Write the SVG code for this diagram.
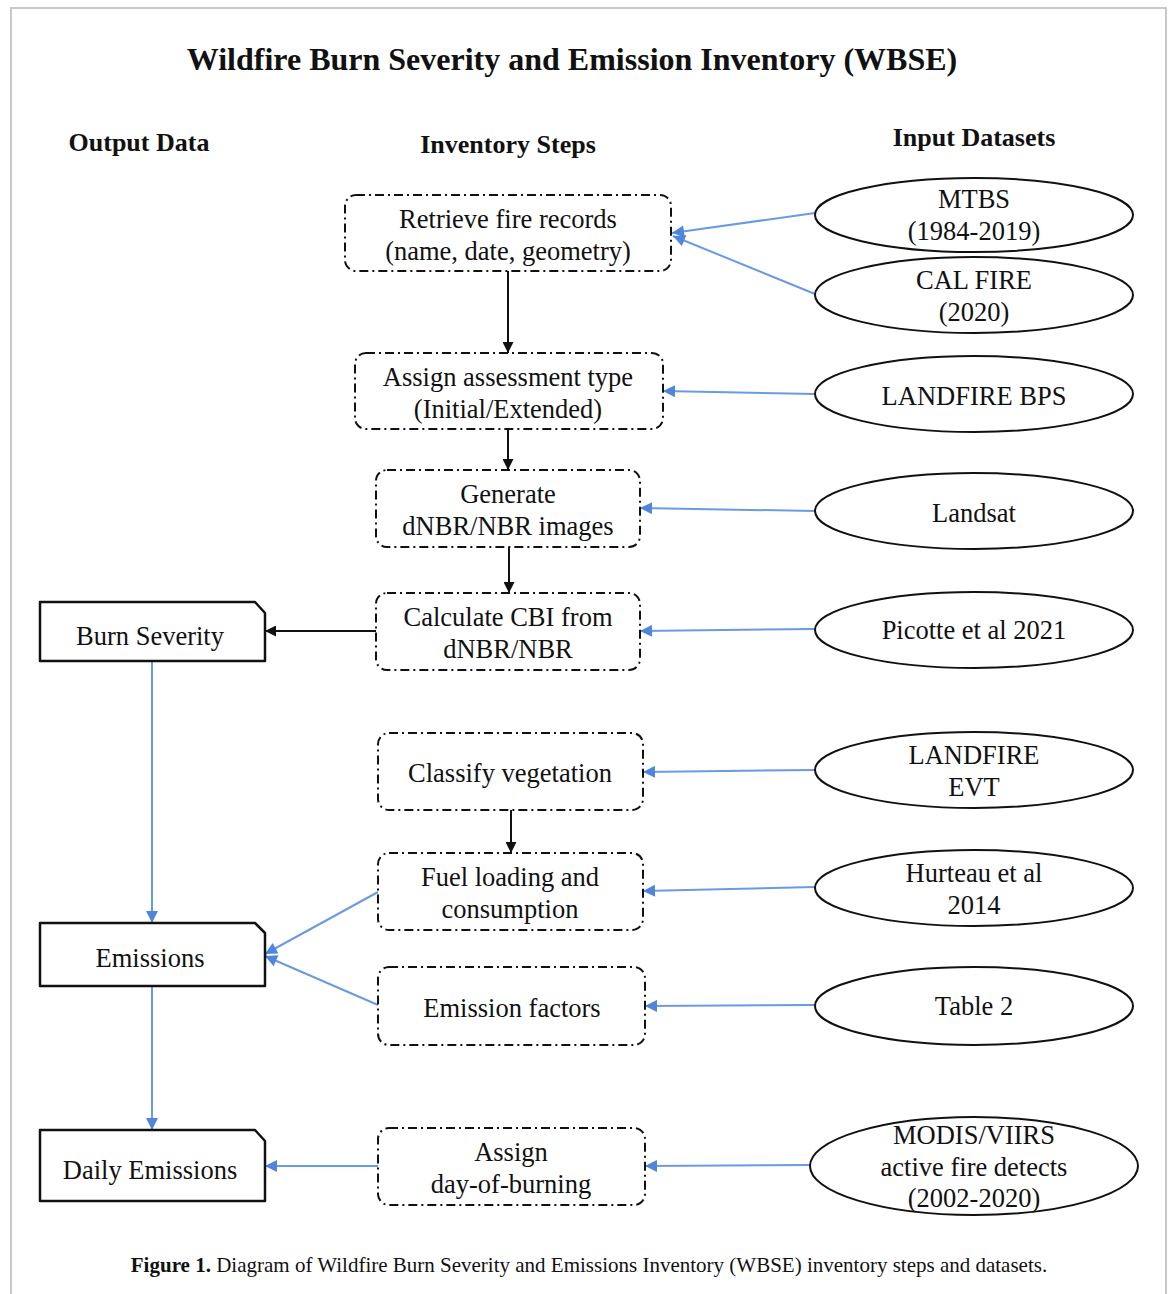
<svg xmlns="http://www.w3.org/2000/svg" width="1171" height="1294" viewBox="0 0 1171 1294">
<defs>
<style>
text{font-family:"Liberation Serif","Times New Roman",serif;fill:#111;text-anchor:middle}
.title{font-size:32px;font-weight:bold}
.head{font-size:26px;font-weight:bold}
.t{font-size:26.5px}
.cap{font-size:21px;text-anchor:middle}
.step{fill:#fff;stroke:#111;stroke-width:2;stroke-dasharray:9 4 2 4}
.out{fill:#fff;stroke:#111;stroke-width:2.5;stroke-linejoin:round}
.in{fill:#fff;stroke:#111;stroke-width:2}
.bl{stroke:#111;stroke-width:2;fill:none}
.bu{stroke:#6a9be0;stroke-width:2;fill:none}
</style>
<marker id="ab" viewBox="0 0 10 10" refX="10" refY="5" markerWidth="12" markerHeight="11" markerUnits="userSpaceOnUse" orient="auto"><path d="M0,0 L10,5 L0,10 Z" fill="#111"/></marker>
<marker id="au" viewBox="0 0 10 10" refX="10" refY="5" markerWidth="14" markerHeight="12" markerUnits="userSpaceOnUse" orient="auto"><path d="M0,0 L10,5 L0,10 Z" fill="#4f86dc"/></marker>
</defs>
<rect x="0" y="0" width="1171" height="1294" fill="#fff"/>
<rect x="11" y="8" width="1155" height="1300" fill="none" stroke="#c8c8c8" stroke-width="2"/>
<text class="title" x="572" y="70">Wildfire Burn Severity and Emission Inventory (WBSE)</text>
<text class="head" x="139" y="151">Output Data</text>
<text class="head" x="508" y="153">Inventory Steps</text>
<text class="head" x="974" y="146">Input Datasets</text>

<g id="connectors">
<line class="bl" x1="508" y1="271" x2="508" y2="353" marker-end="url(#ab)"/>
<line class="bl" x1="508" y1="429" x2="508" y2="470" marker-end="url(#ab)"/>
<line class="bl" x1="509" y1="547" x2="509" y2="593" marker-end="url(#ab)"/>
<line class="bl" x1="511" y1="810" x2="511" y2="853" marker-end="url(#ab)"/>
<line class="bl" x1="376" y1="631" x2="265" y2="631" marker-end="url(#ab)"/>
<line class="bu" x1="815" y1="213" x2="672" y2="233" marker-end="url(#au)"/>
<line class="bu" x1="815" y1="294" x2="673" y2="236" marker-end="url(#au)"/>
<line class="bu" x1="815" y1="394" x2="663" y2="391" marker-end="url(#au)"/>
<line class="bu" x1="815" y1="511" x2="640" y2="508" marker-end="url(#au)"/>
<line class="bu" x1="815" y1="629" x2="640" y2="631" marker-end="url(#au)"/>
<line class="bu" x1="815" y1="770" x2="643" y2="772" marker-end="url(#au)"/>
<line class="bu" x1="815" y1="887" x2="643" y2="891" marker-end="url(#au)"/>
<line class="bu" x1="815" y1="1005" x2="645" y2="1006" marker-end="url(#au)"/>
<line class="bu" x1="810" y1="1165" x2="645" y2="1166" marker-end="url(#au)"/>
<line class="bu" x1="378" y1="1166" x2="265" y2="1166" marker-end="url(#au)"/>
<line class="bu" x1="378" y1="892" x2="265" y2="954" marker-end="url(#au)"/>
<line class="bu" x1="378" y1="1005" x2="265" y2="956" marker-end="url(#au)"/>
<line class="bu" x1="152" y1="661" x2="152" y2="923" marker-end="url(#au)"/>
<line class="bu" x1="152" y1="986" x2="152" y2="1130" marker-end="url(#au)"/>
</g>

<g id="step-retrieve"><rect class="step" x="345" y="195" width="326" height="76" rx="11"/><text class="t" x="508" y="228">Retrieve fire records</text><text class="t" x="508" y="260">(name, date, geometry)</text></g>
<g id="step-assess"><rect class="step" x="355" y="353" width="308" height="76" rx="11"/><text class="t" x="508" y="386">Assign assessment type</text><text class="t" x="508" y="418">(Initial/Extended)</text></g>
<g id="step-generate"><rect class="step" x="376" y="470" width="264" height="77" rx="11"/><text class="t" x="508" y="503">Generate</text><text class="t" x="508" y="535">dNBR/NBR images</text></g>
<g id="step-cbi"><rect class="step" x="376" y="593" width="264" height="77" rx="11"/><text class="t" x="508" y="626">Calculate CBI from</text><text class="t" x="508" y="658">dNBR/NBR</text></g>
<g id="step-classify"><rect class="step" x="378" y="733" width="265" height="77" rx="11"/><text class="t" x="510" y="782">Classify vegetation</text></g>
<g id="step-fuel"><rect class="step" x="378" y="853" width="265" height="77" rx="11"/><text class="t" x="510" y="886">Fuel loading and</text><text class="t" x="510" y="918">consumption</text></g>
<g id="step-ef"><rect class="step" x="378" y="967" width="267" height="78" rx="11"/><text class="t" x="512" y="1017">Emission factors</text></g>
<g id="step-day"><rect class="step" x="378" y="1128" width="267" height="77" rx="11"/><text class="t" x="511" y="1161">Assign</text><text class="t" x="511" y="1193">day-of-burning</text></g>

<g id="out-burn"><path class="out" d="M40,602 H255 L265,613 V661 H40 Z"/><text class="t" x="150" y="645">Burn Severity</text></g>
<g id="out-emis"><path class="out" d="M40,923 H255 L265,933 V986 H40 Z"/><text class="t" x="150" y="967">Emissions</text></g>
<g id="out-daily"><path class="out" d="M40,1130 H255 L265,1141 V1201 H40 Z"/><text class="t" x="150" y="1179">Daily Emissions</text></g>

<g id="in-mtbs"><ellipse class="in" cx="974" cy="215" rx="159" ry="37"/><text class="t" x="974" y="208">MTBS</text><text class="t" x="974" y="240">(1984-2019)</text></g>
<g id="in-calfire"><ellipse class="in" cx="974" cy="295" rx="159" ry="38"/><text class="t" x="974" y="289">CAL FIRE</text><text class="t" x="974" y="321">(2020)</text></g>
<g id="in-bps"><ellipse class="in" cx="974" cy="394" rx="159" ry="38"/><text class="t" x="974" y="405">LANDFIRE BPS</text></g>
<g id="in-landsat"><ellipse class="in" cx="974" cy="511" rx="159" ry="38"/><text class="t" x="974" y="522">Landsat</text></g>
<g id="in-picotte"><ellipse class="in" cx="974" cy="630" rx="159" ry="38"/><text class="t" x="974" y="639">Picotte et al 2021</text></g>
<g id="in-evt"><ellipse class="in" cx="974" cy="770" rx="159" ry="38"/><text class="t" x="974" y="764">LANDFIRE</text><text class="t" x="974" y="796">EVT</text></g>
<g id="in-hurteau"><ellipse class="in" cx="974" cy="888" rx="159" ry="38"/><text class="t" x="974" y="882">Hurteau et al</text><text class="t" x="974" y="914">2014</text></g>
<g id="in-table2"><ellipse class="in" cx="974" cy="1006" rx="159" ry="39"/><text class="t" x="974" y="1015">Table 2</text></g>
<g id="in-modis"><ellipse class="in" cx="974" cy="1166" rx="164" ry="49"/><text class="t" x="974" y="1144">MODIS/VIIRS</text><text class="t" x="974" y="1176">active fire detects</text><text class="t" x="974" y="1207">(2002-2020)</text></g>

<text class="cap" x="589" y="1272"><tspan font-weight="bold">Figure 1.</tspan> Diagram of Wildfire Burn Severity and Emissions Inventory (WBSE) inventory steps and datasets.</text>
</svg>
